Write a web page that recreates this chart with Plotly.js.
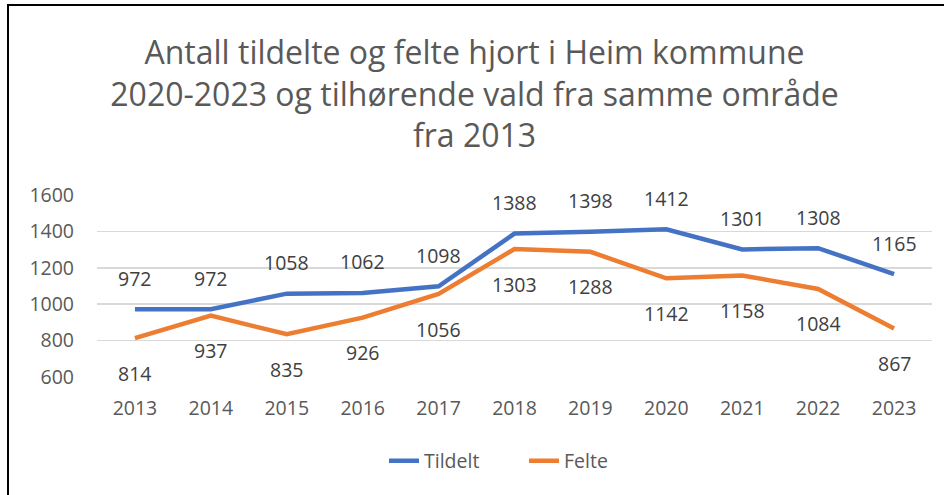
<!DOCTYPE html>
<html>
<head>
<meta charset="utf-8">
<script src="https://cdn.plot.ly/plotly-3.0.1.min.js"></script>
<style>
  html, body { margin: 0; padding: 0; background: #fff; }
  #wrap { position: relative; width: 949px; height: 495px; }
  #chart { width: 949px; height: 495px; }
  #frame { position: absolute; left: 7px; top: 4px; width: 937px; height: 491px;
           border-top: 2px solid #000; border-left: 2px solid #000; box-sizing: border-box; pointer-events: none; }
</style>
</head>
<body>
<div id="wrap">
  <div id="chart"></div>
  <div id="frame"></div>
</div>
<script>
const years = ['2013','2014','2015','2016','2017','2018','2019','2020','2021','2022','2023'];
const tildelt = [972, 972, 1058, 1062, 1098, 1388, 1398, 1412, 1301, 1308, 1165];
const felte = [814, 937, 835, 926, 1056, 1303, 1288, 1142, 1158, 1084, 867];
const yTicks = [600, 800, 1000, 1200, 1400, 1600];

const FONT = 'Open Sans, sans-serif';
const blue = '#4472C4';
const orange = '#ED7D31';

const traces = [
  { x: years, y: tildelt, name: 'Tildelt', type: 'scatter', mode: 'lines',
    line: { color: blue, width: 4.5 }, hoverinfo: 'skip' },
  { x: years, y: felte, name: 'Felte', type: 'scatter', mode: 'lines',
    line: { color: orange, width: 4.5 }, hoverinfo: 'skip' }
];

const annotations = [];
years.forEach((yr, i) => {
  annotations.push({ x: i, y: tildelt[i], xref: 'x', yref: 'y', text: String(tildelt[i]),
    showarrow: false, yshift: 31, font: { family: FONT, size: 19.5, color: '#404040' } });
  annotations.push({ x: i, y: felte[i], xref: 'x', yref: 'y', text: String(felte[i]),
    showarrow: false, yshift: -35, font: { family: FONT, size: 19.5, color: '#404040' } });
});

const layout = {
  width: 949, height: 495,
  margin: { l: 97, r: 17, t: 195, b: 118 },
  paper_bgcolor: '#fff', plot_bgcolor: '#fff',
  font: { family: FONT, color: '#595959' },
  title: { text: 'Antall tildelte og felte hjort i Heim kommune<br>2020-2023 og tilhørende vald fra samme område<br>fra 2013',
    font: { family: FONT, size: 32, color: '#595959' },
    x: 0.5, xref: 'container', xanchor: 'center', y: 1 - 64/495, yref: 'container', yanchor: 'top' },
  xaxis: { type: 'category', categoryorder: 'array', categoryarray: years, range: [-0.5, 10.5],
    showgrid: false, zeroline: false, showline: false, ticks: '', ticklabelstandoff: 17,
    tickfont: { family: FONT, size: 19.5, color: '#595959' }, fixedrange: true },
  yaxis: { range: [600, 1600], tickvals: yTicks, showgrid: true, gridcolor: '#d9d9d9', gridwidth: 1.5,
    zeroline: false, showline: false, ticks: '', ticklabelstandoff: 22,
    tickfont: { family: FONT, size: 19.5, color: '#595959' }, fixedrange: true },
  showlegend: true,
  legend: { orientation: 'h', x: (384 - 97) / 835, xanchor: 'left', y: -84/182, yanchor: 'middle',
    entrywidth: 95, entrywidthmode: 'pixels', itemwidth: 30,
    font: { family: FONT, size: 19.5, color: '#595959' } },
  annotations: annotations
};

Plotly.newPlot('chart', traces, layout, { displayModeBar: false, staticPlot: true });
</script>
</body>
</html>
